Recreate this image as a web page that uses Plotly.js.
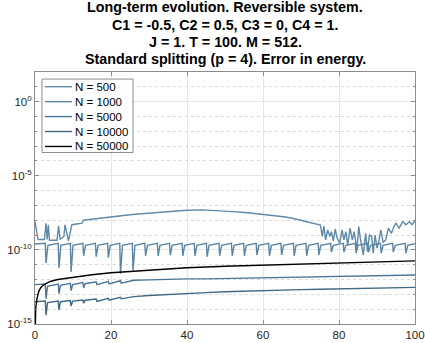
<!DOCTYPE html>
<html>
<head>
<meta charset="utf-8">
<script src="https://cdn.plot.ly/plotly-3.0.1.min.js"></script>
<style>
  html, body { margin: 0; padding: 0; background: #fff; }
  #myDiv { width: 425px; height: 343px; }
</style>
</head>
<body>
<div id="myDiv"></div>
<script>
// error in energy vs t
let n500x = [0, 0.8, 2.5, 2.9, 3.2, 3.5, 3.8, 5.8, 6.2, 6.6, 7.6, 7.9, 8.8, 9.7, 11, 12.4, 12.7, 14, 16, 18, 20, 22, 25, 28, 30, 33, 36, 40, 44, 48, 52, 56, 60, 63, 66, 68, 70, 72, 74,
    75.1, 75.6, 76, 76.5, 77, 77.6, 78, 78.5, 79, 79.5, 80.2, 80.8, 81.3, 81.8, 82.3, 82.9, 83.5, 84, 84.7, 85.2, 85.6, 86.4, 87, 87.5, 88, 88.6, 89, 89.5, 90, 90.5, 91, 91.6, 92.3, 93, 93.8, 94.5, 95, 95.8, 96.8, 97.6, 98.5, 99.2, 100];
let n500y = [8e-9, 5e-10, 5e-10, 6.3e-9, 5e-10, 5e-9, 4.5e-10, 4.5e-10, 4e-9, 5e-10, 8e-10, 5e-9, 4e-10, 5e-9, 5.6e-9, 6.3e-9, 1e-8, 1.1e-8, 1.25e-8, 1.5e-8, 1.75e-8, 2e-8, 2.35e-8, 2.75e-8, 3e-8, 3.5e-8, 4e-8, 4.7e-8, 5e-8, 4.5e-8, 3.8e-8, 3.2e-8, 2.5e-8, 2.1e-8, 1.65e-8, 1.3e-8, 1e-8, 8e-9, 5.6e-9,
    4.8e-9, 8e-10, 4e-9, 4.7e-10, 2.2e-9, 8e-10, 1.7e-9, 4e-10, 2.5e-9, 6.3e-10, 2.8e-10, 2.2e-9, 4.7e-10, 1.7e-9, 2.1e-10, 2.9e-9, 4.7e-10, 1.7e-9, 1e-10, 3.7e-9, 6.3e-10, 4.6e-11, 1.3e-9, 7.6e-11, 1e-9, 8e-10, 5.9e-11, 1e-9, 1.3e-10, 4e-10, 2.2e-9, 3.2e-10, 4.7e-10, 2.9e-9, 1.3e-9, 4e-9, 6.3e-9, 2.9e-9, 8.1e-9, 5e-9, 7.9e-9, 5e-9, 9e-9];

let n1000x = [0, 2.7, 2.9, 3.4, 6.1, 6.3, 6.8, 9.3, 9.5, 10.0, 12.6, 12.8, 13.3, 15.9, 16.1, 16.6, 19.1, 19.3, 19.8, 22.3, 22.5, 23.0, 25.6, 25.8, 26.3,
    28.9, 29.1, 29.6, 32.2, 32.4, 32.9, 35.4, 35.6, 36.1, 38.7, 38.9, 39.4, 41.9, 42.1, 42.6, 45.1, 45.3, 45.8, 48.4, 48.6, 49.1, 51.7, 51.9, 52.4,
    54.9, 55.1, 55.6, 58.2, 58.4, 58.9, 61.5, 61.7, 62.2, 64.7, 64.9, 65.4, 68.0, 68.2, 68.7, 71.3, 71.5, 72.0, 74.5, 74.7, 75.2, 77.8, 78.0, 78.5,
    81.1, 81.3, 81.8, 84.3, 84.5, 85.0, 87.6, 87.8, 88.3, 90.9, 91.1, 91.6, 94.1, 94.3, 94.8, 97.4, 97.6, 98.1, 100];
let n1000y = [2.5e-10, 2.8e-10, 1.3e-11, 2e-10, 2.8e-10, 6e-12, 2e-10, 2.8e-10, 3.2e-12, 2e-10, 2.8e-10, 4e-11, 2e-10, 2.8e-10, 3.5e-11, 2e-10, 2.8e-10, 3e-11, 2e-10, 2.8e-10, 2.5e-12, 2e-10, 2.8e-10, 4e-12, 2e-10,
    2.8e-10, 4e-11, 2e-10, 2.8e-10, 4e-11, 2e-10, 2.8e-10, 4.5e-11, 2e-10, 2.8e-10, 4e-11, 2e-10, 2.8e-10, 4e-11, 2e-10, 2.8e-10, 3.5e-11, 2e-10, 2.8e-10, 4e-11, 2e-10, 2.8e-10, 4e-11, 2e-10,
    2.8e-10, 4e-11, 2e-10, 2.8e-10, 4.5e-11, 2e-10, 2.8e-10, 4e-11, 2e-10, 2.8e-10, 4.5e-11, 2e-10, 2.8e-10, 4e-11, 2e-10, 2.8e-10, 4e-11, 2e-10, 2.8e-10, 4.5e-11, 2e-10, 2.8e-10, 7e-11, 2e-10,
    2.8e-10, 7e-11, 2e-10, 2.8e-10, 6e-11, 2e-10, 2.8e-10, 7e-11, 2e-10, 2.8e-10, 6e-11, 2e-10, 2.8e-10, 7e-11, 2e-10, 2.8e-10, 6e-11, 2e-10, 2.6e-10];

let n5000x = [0, 2.7, 2.9, 3.3, 6.1, 6.3, 6.7, 9.3, 9.5, 9.9, 12.6, 12.8, 13.2, 16.1, 16.3, 19.3, 19.5, 22.5, 22.7, 26, 30, 35, 40, 45, 50, 55, 60, 65, 70, 75, 80, 85, 90, 95, 100];
let n5000y = [4.5e-13, 5e-13, 5e-14, 3.5e-13, 5e-13, 1.1e-13, 4e-13, 5.6e-13, 1.8e-13, 4.5e-13, 6.3e-13, 2.8e-13, 5.2e-13, 7e-13, 4.5e-13, 7.6e-13, 5e-13, 8.3e-13, 5.6e-13, 9e-13, 9.5e-13, 1.05e-12, 1.1e-12, 1.1e-12, 1.17e-12, 1.17e-12, 1.25e-12, 1.3e-12, 1.4e-12, 1.5e-12, 1.6e-12, 1.65e-12, 1.8e-12, 1.9e-12, 2e-12];

let n10000x = [0, 2.7, 2.9, 3.3, 6.1, 6.3, 6.7, 9.3, 9.5, 9.9, 12.6, 12.8, 13.2, 16.1, 16.3, 19.3, 19.5, 22.5, 22.7, 26, 30, 35, 40, 45, 50, 55, 60, 65, 70, 75, 80, 85, 90, 95, 100];
let n10000y = [3.2e-14, 3.5e-14, 4e-15, 2.8e-14, 3.5e-14, 9e-15, 3.2e-14, 3.8e-14, 1.6e-14, 3.5e-14, 4.2e-14, 2.5e-14, 4e-14, 4.8e-14, 3.3e-14, 5.4e-14, 4e-14, 6.3e-14, 5e-14, 7e-14, 8.3e-14, 1e-13, 1.17e-13, 1.3e-13, 1.5e-13, 1.65e-13, 1.9e-13, 2e-13, 2.1e-13, 2.2e-13, 2.3e-13, 2.4e-13, 2.5e-13, 2.7e-13, 2.95e-13];

let n50000x = [0, 0.05, 0.2, 0.5, 1, 1.5, 2, 3, 4, 6, 8, 10, 15, 20, 30, 40, 50, 60, 70, 80, 90, 100];
let n50000y = [1e-16, 2.5e-15, 1.25e-14, 5e-14, 1.6e-13, 2.8e-13, 3.8e-13, 5.6e-13, 7.4e-13, 1e-12, 1.2e-12, 1.4e-12, 2.1e-12, 2.9e-12, 4.4e-12, 6.3e-12, 7.9e-12, 9.5e-12, 1.1e-11, 1.3e-11, 1.5e-11, 1.8e-11];

let names = ['N = 500', 'N = 1000', 'N = 5000', 'N = 10000', 'N = 50000'];
let colors = ['#5f8aa9', '#5a85a4', '#4e7694', '#416882', '#000000'];
let xs = [n500x, n1000x, n5000x, n10000x, n50000x];
let ys = [n500y, n1000y, n5000y, n10000y, n50000y];

let titleLines = [
    'Long-term evolution. Reversible system.',
    'C1 = -0.5, C2 = 0.5, C3 = 0, C4 = 1.',
    'J = 1. T = 100. M = 512.',
    'Standard splitting (p = 4). Error in energy.'
];

let yTickVals = [1e-15, 1e-10, 1e-5, 1];
let yTickText = ['10<sup>-15</sup>', '10<sup>-10</sup>', '10<sup>-5</sup>', '10<sup>0</sup>'];

let traces = [];
for (let i = 0; i < names.length; i++) {
    traces.push({
        type: 'scatter',
        mode: 'lines',
        name: names[i],
        x: xs[i],
        y: ys[i],
        line: {color: colors[i], width: 1.4}
    });
}

// legend drawn by hand: plotly's rows are too tall for this one
let shapes = [{
    type: 'rect', xref: 'paper', yref: 'paper',
    x0: 0.0184, x1: 0.258, y0: 0.6806, y1: 0.972,
    line: {color: '#8c8c8c', width: 1}, fillcolor: '#ffffff', layer: 'above'
}];
let annotations = [];
for (let i = 0; i < names.length; i++) {
    let yy = 0.9417 - i * 0.0593;
    shapes.push({
        type: 'line', xref: 'paper', yref: 'paper',
        x0: 0.0263, x1: 0.0974, y0: yy, y1: yy,
        line: {color: colors[i], width: 1.4}, layer: 'above'
    });
    annotations.push({
        xref: 'paper', yref: 'paper', x: 0.1, y: yy,
        xanchor: 'left', yanchor: 'middle', showarrow: false,
        text: names[i], font: {size: 11.5, color: '#000'}
    });
}

// title, one line per annotation so the lines sit close like the original
for (let i = 0; i < titleLines.length; i++) {
    annotations.push({
        xref: 'paper', yref: 'paper', x: 0.5, y: 1.256 - i * 0.0685,
        xanchor: 'center', yanchor: 'middle', showarrow: false,
        text: '<b>' + titleLines[i] + '</b>', font: {size: 14.3, color: '#000'}
    });
}

let layout = {
    width: 425,
    height: 343,
    margin: {l: 35, r: 10, t: 72, b: 19},
    paper_bgcolor: '#ffffff',
    plot_bgcolor: '#ffffff',
    font: {family: 'Liberation Sans, Arial, sans-serif', size: 11.5, color: '#262626'},
    showlegend: false,
    shapes: shapes,
    annotations: annotations,
    xaxis: {
        range: [0, 100],
        dtick: 20,
        showgrid: true, gridcolor: '#e6e6e6',
        zeroline: false,
        showline: true, linecolor: '#8c8c8c', linewidth: 1, mirror: 'ticks',
        ticks: 'inside', ticklen: 4, tickcolor: '#8c8c8c',
        tickfont: {size: 11.5, color: '#262626'}
    },
    yaxis: {
        type: 'log',
        range: [-15, 2],
        tickvals: yTickVals,
        ticktext: yTickText,
        showgrid: true, gridcolor: '#e6e6e6',
        zeroline: false,
        showline: true, linecolor: '#8c8c8c', linewidth: 1, mirror: 'ticks',
        ticks: 'inside', ticklen: 4, tickcolor: '#8c8c8c',
        tickfont: {size: 11.5, color: '#262626'},
        minor: {dtick: 1, showgrid: true, gridcolor: '#d9d9d9', griddash: 'dot', ticks: 'inside', ticklen: 2, tickcolor: '#8c8c8c'}
    }
};

Plotly.newPlot('myDiv', traces, layout, {staticPlot: true});
</script>
</body>
</html>
